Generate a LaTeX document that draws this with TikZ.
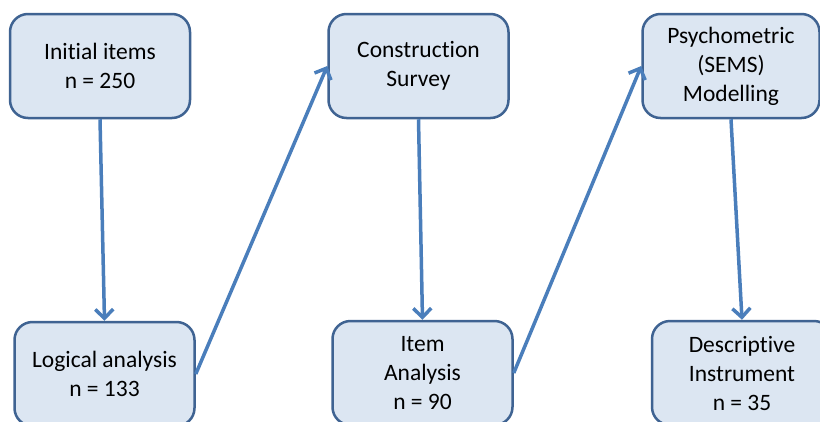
\documentclass[tikz,border=0pt]{standalone}
\usepackage{fontspec}
\setmainfont{Carlito}[Ligatures=NoCommon]
\usetikzlibrary{arrows.meta}

\definecolor{boxfill}{HTML}{DCE6F2}
\definecolor{boxline}{HTML}{3F6392}
\definecolor{arrowline}{HTML}{4A7EBB}

\begin{document}
\begin{tikzpicture}[
			x=1pt, y=1pt,
			nodes = {
				align = center
			},
			block/.style={
				draw=boxline,
				fill=boxfill,
				line width=2.5pt,
				rectangle,
				rounded corners=18pt,
				minimum width=180pt,
				minimum height=104pt,
				inner sep=0pt,
				font=\fontsize{23.5}{29}\selectfont
			},
			lines/.style={
				draw=arrowline,
				line width=3.5pt,
				-{Straight Barb[length=9pt,width=18pt,line width=3.5pt]}
			}
		]
			\useasboundingbox (0,0) rectangle (820,-421);

			\node[block] (init) at (100,-66) {Initial items\\n = 250};
			\node[block] (logic) at (104.5,-374) {Logical analysis\\n = 133};
			\node[block] (constr) at (418.5,-66) {Construction\\Survey};
			\node[block] (item) at (422.5,-373) {Item\\Analysis\\n = 90};
			\node[block, minimum width=177pt] (psych) at (731,-66) {Psychometric\\(SEMS)\\Modelling};
			\node[block] (descr) at (742,-373) {Descriptive\\Instrument\\n = 35};

			\draw[lines] (init.south) -- (logic.north);
			\draw[lines] (logic.east) -- (constr.west);
			\draw[lines] (constr.south) -- (item.north);
			\draw[lines] (item.east) -- (psych.west);
			\draw[lines] (psych.south) -- (descr.north);

		\end{tikzpicture}
\end{document}
